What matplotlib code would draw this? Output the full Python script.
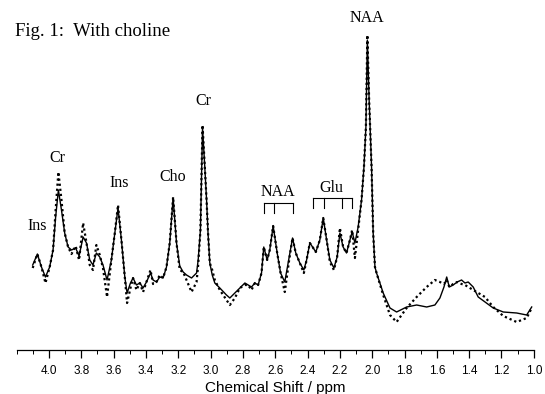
import matplotlib
matplotlib.use("Agg")
import matplotlib.pyplot as plt
from matplotlib.ticker import MultipleLocator

# Chemical shift axis (ppm) and intensities (arbitrary units)
solid_ppm = [4.101, 4.072, 4.047, 4.022, 3.996, 3.975, 3.959, 3.942, 3.923, 3.903,
             3.882, 3.861, 3.835, 3.814, 3.789, 3.768, 3.748, 3.728, 3.707, 3.686,
             3.666, 3.641, 3.614, 3.593, 3.573, 3.552, 3.531, 3.517, 3.496, 3.480,
             3.459, 3.438, 3.418, 3.397, 3.372, 3.356, 3.335, 3.315, 3.294, 3.273,
             3.253, 3.232, 3.211, 3.191, 3.170, 3.149, 3.118, 3.087, 3.077, 3.063,
             3.050, 3.036, 3.025, 3.016, 3.005, 2.990, 2.974, 2.943, 2.902, 2.881,
             2.850, 2.819, 2.788, 2.768, 2.747, 2.726, 2.706, 2.685, 2.671, 2.650,
             2.634, 2.613, 2.588, 2.567, 2.541, 2.514, 2.493, 2.473, 2.448, 2.423,
             2.406, 2.386, 2.369, 2.349, 2.324, 2.303, 2.282, 2.262, 2.237, 2.217,
             2.200, 2.180, 2.159, 2.138, 2.124, 2.107, 2.087, 2.066, 2.051, 2.039,
             2.030, 2.019, 2.004, 1.994, 1.983, 1.973, 1.932, 1.890, 1.849, 1.787,
             1.725, 1.663, 1.612, 1.581, 1.556, 1.539, 1.523, 1.499, 1.474, 1.447,
             1.426, 1.406, 1.375, 1.344, 1.302, 1.251, 1.189, 1.106, 1.044, 1.013]

# Fitted spectrum (solid line)
fit_intensity = [85, 96, 83, 73, 83, 100, 133, 160, 140, 117,
                 103, 100, 102, 94, 113, 107, 90, 85, 97, 93,
                 85, 70, 90, 117, 142, 110, 73, 57, 67, 72,
                 65, 67, 62, 68, 77, 70, 68, 73, 72, 83,
                 107, 152, 107, 84, 78, 75, 72, 77, 90, 120,
                 222, 183, 150, 117, 87, 75, 67, 62, 55, 52,
                 57, 62, 67, 65, 63, 67, 65, 77, 103, 90,
                 100, 124, 97, 77, 68, 93, 112, 97, 87, 80,
                 90, 107, 103, 98, 110, 132, 110, 90, 82, 93,
                 117, 103, 97, 110, 118, 107, 123, 150, 183, 223,
                 310, 250, 183, 117, 83, 77, 57, 42, 38, 43,
                 45, 43, 45, 52, 63, 73, 63, 65, 68, 70,
                 67, 68, 63, 53, 48, 42, 38, 37, 35, 43]

# Measured spectrum (dotted line)
measured_intensity = [82, 96, 83, 67, 83, 100, 140, 178, 150, 117,
                      103, 96, 104, 90, 127, 107, 85, 80, 105, 95,
                      82, 53, 90, 117, 145, 110, 73, 47, 62, 72,
                      60, 67, 58, 68, 80, 66, 68, 75, 72, 83,
                      107, 153, 107, 80, 78, 70, 58, 68, 85, 120,
                      225, 183, 150, 117, 87, 80, 70, 60, 50, 45,
                      52, 62, 65, 65, 60, 67, 65, 77, 103, 90,
                      100, 124, 97, 77, 58, 90, 112, 97, 87, 77,
                      90, 107, 103, 98, 110, 132, 110, 88, 80, 93,
                      122, 103, 97, 110, 120, 92, 120, 150, 183, 223,
                      315, 250, 183, 117, 83, 77, 55, 35, 28, 42,
                      53, 63, 70, 68, 66, 70, 63, 66, 68, 66,
                      65, 63, 60, 57, 53, 43, 34, 28, 32, 42]

tick_values = [4.0, 3.8, 3.6, 3.4, 3.2, 3.0, 2.8, 2.6, 2.4, 2.2, 2.0, 1.8, 1.6, 1.4, 1.2, 1.0]
tick_labels = ["4.0", "3.8", "3.6", "3.4", "3.2", "3.0", "2.8", "2.6", "2.4", "2.2",
               "2.0", "1.8", "1.6", "1.4", "1.2", "1.0"]

# Metabolite assignments: (name, ppm, height of label)
peak_names = ["Ins", "Cr", "Ins", "Cho", "Cr", "NAA", "Glu", "NAA"]
peak_label_ppm = [4.070, 3.949, 3.568, 3.234, 3.042, 2.581, 2.250, 2.033]
peak_label_height = [124, 192, 167, 173, 249, 158, 162, 332]

# Multiplet brackets
naa_bracket_ppm = [2.671, 2.609, 2.489]
glu_bracket_ppm = [2.369, 2.299, 2.190, 2.124]

fig = plt.figure(figsize=(5.45, 3.94), dpi=100)
ax = fig.add_axes([16.7 / 545, 44 / 394, (533.8 - 16.7) / 545, 340 / 394])

ax.plot(solid_ppm, fit_intensity, color="black", lw=1.0, solid_joinstyle="round")
ax.plot(solid_ppm, measured_intensity, color="black", lw=1.6,
        linestyle=(0, (1, 1.3)))

ax.set_xlim(4.2, 1.0)
ax.set_ylim(0, 340)

for side in ("left", "right", "top"):
    ax.spines[side].set_visible(False)
ax.spines["bottom"].set_linewidth(0.9)
ax.set_yticks([])
ax.set_xticks(tick_values)
ax.set_xticklabels(tick_labels, fontfamily="Liberation Sans", fontsize=8.5)
ax.xaxis.set_minor_locator(MultipleLocator(0.1))
ax.tick_params(axis="x", which="major", length=6, width=0.9, pad=5)
ax.tick_params(axis="x", which="minor", length=3, width=0.7)
ax.set_xlabel("Chemical Shift / ppm", fontfamily="Liberation Sans", fontsize=11, labelpad=3)

serif = "Liberation Serif"
for name, px, py in zip(peak_names, peak_label_ppm, peak_label_height):
    ax.text(px, py, name, ha="center", va="center", fontsize=11.5, fontfamily=serif)


def bracket(xs, top, bottom):
    ax.plot([xs[0], xs[-1]], [top, top], color="black", lw=0.8)
    for x in xs:
        ax.plot([x, x], [top, bottom], color="black", lw=0.8)


bracket(naa_bracket_ppm, 147, 137)
bracket(glu_bracket_ppm, 152, 142)

fig.text(15 / 545, 1 - 32 / 394, "Fig. 1:  With choline", ha="left", va="center",
         fontsize=13.5, fontfamily=serif)

fig.savefig("out.png", dpi=100)
